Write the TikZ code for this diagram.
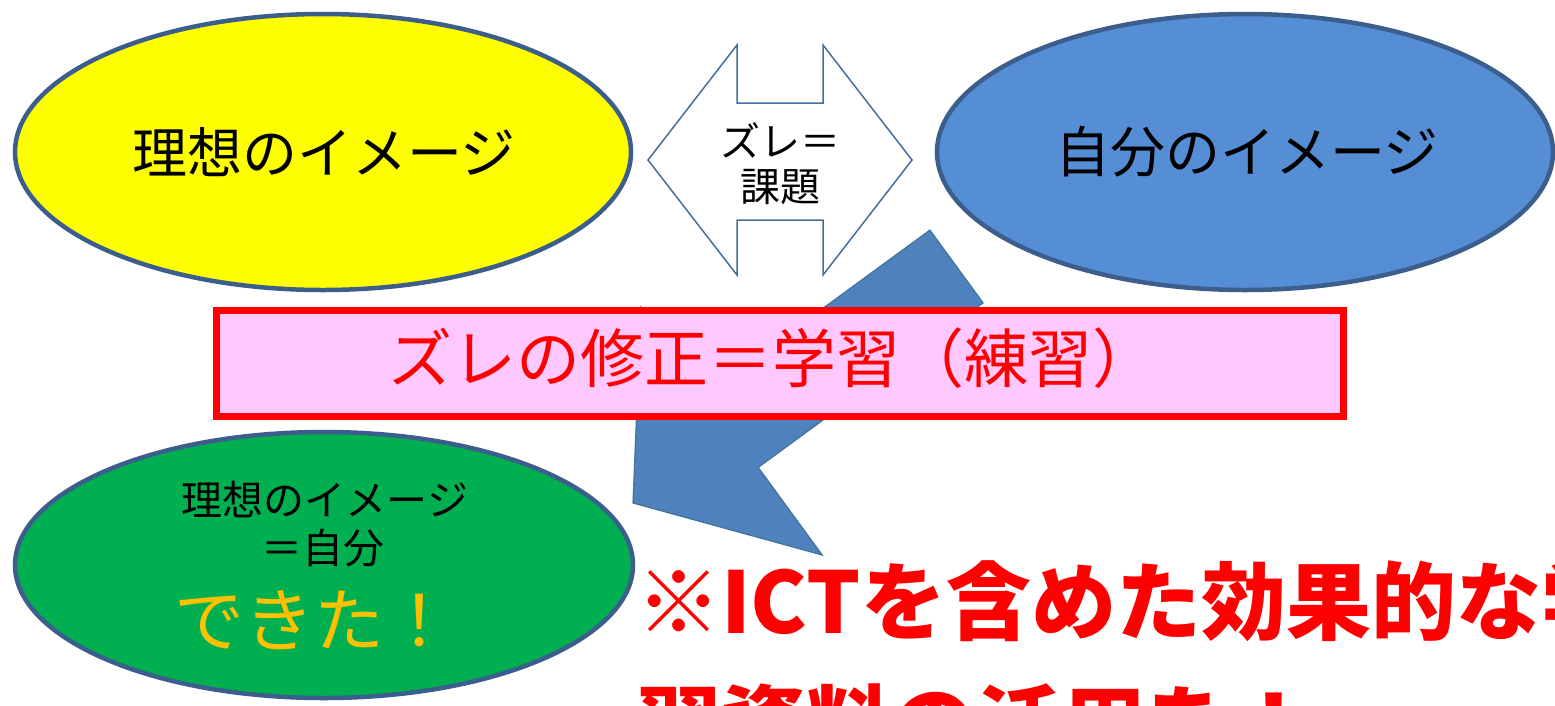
\documentclass[tikz,border=0pt]{standalone}
\usepackage{fontspec}
\setmainfont{Noto Sans CJK JP}
\usetikzlibrary{shapes.geometric}
\definecolor{edgeblue}{HTML}{3B5E8C}
\definecolor{thinblue}{HTML}{41719C}
\definecolor{arrowblue}{HTML}{4F81BD}
\definecolor{skyblue}{HTML}{558ED5}
\definecolor{yel}{HTML}{FFFF00}
\definecolor{grn}{HTML}{00B050}
\definecolor{pink}{HTML}{FFC9FF}
\definecolor{redc}{HTML}{FF0000}
\definecolor{gold}{HTML}{FFC000}
\tikzset{
  oval/.style={ellipse, draw=edgeblue, line width=4.5pt, inner sep=0pt},
  lbl/.style={inner sep=0pt, text=black},
}
\begin{document}
\begin{tikzpicture}[x=1pt,y=-1pt]
\useasboundingbox (0,0) rectangle (1555,705);
\clip (0,0) rectangle (1555,705);
\fill[white] (0,0) rectangle (1555,705);
% top ellipses
\node[oval, fill=yel, minimum width=616pt, minimum height=276pt] (ideal) at (323,152) {};
\node[oval, fill=skyblue, minimum width=616pt, minimum height=276pt] (self) at (1245,152) {};
\node[lbl, font=\fontsize{55}{60}\selectfont] (idealtxt) at (324,152) {理想のイメージ};
\node[lbl, font=\fontsize{55}{60}\selectfont] (selftxt) at (1247,152) {自分のイメージ};
% double arrow
\draw[thinblue, line width=1.5pt, fill=white, line join=miter]
  (648,160) -- (737,45) -- (737,103) -- (823,103) -- (823,45) -- (912,160)
  -- (823,275) -- (823,220) -- (737,220) -- (737,275) -- cycle;
\node[lbl, font=\fontsize{40}{46}\selectfont] (gap1) at (780,140) {ズレ＝};
\node[lbl, font=\fontsize{40}{46}\selectfont] (gap2) at (780,187) {課題};
% big blue arrow
\draw[thinblue, line width=1.2pt, fill=arrowblue, line join=miter]
  (633,503) -- (641,307) -- (705,394.6) -- (929.9,230.1) -- (983.1,302.9)
  -- (758.2,467.4) -- (822.2,555) -- cycle;
% pink box
\node[draw=redc, line width=7pt, fill=pink, minimum width=1127pt, minimum height=106pt, inner sep=0pt] (fix) at (780,363.5) {};
\node[lbl, text=redc, font=\fontsize{64}{70}\selectfont] (fixtxt) at (772,358) {ズレの修正＝学習（練習）};
% green ellipse
\node[oval, fill=grn, minimum width=618pt, minimum height=266pt] (done) at (324,565) {};
\node[lbl, font=\fontsize{41}{46}\selectfont] (done1) at (325,500) {理想のイメージ};
\node[lbl, font=\fontsize{41}{46}\selectfont] (done2) at (323,548) {＝自分};
\node[lbl, text=gold, font=\fontsize{70}{76}\selectfont] (done3) at (314,620) {できた！};
% red note
\node[lbl, text=redc, anchor=base west, font=\fontsize{85}{100}\bfseries] (note1) at (636,633) {※ICTを含めた効果的な学};
\node[lbl, text=redc, anchor=base west, font=\fontsize{85}{100}\bfseries] (note2) at (636,756) {習資料の活用を！};
\end{tikzpicture}
\end{document}
